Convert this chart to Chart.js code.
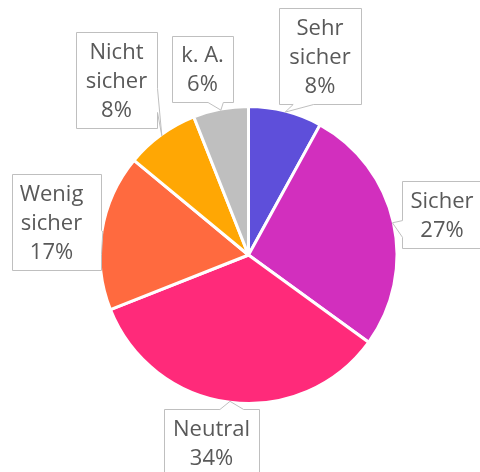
<!DOCTYPE html>
<html>
<head>
<meta charset="utf-8">
<script src="https://cdn.jsdelivr.net/npm/chart.js@4/dist/chart.umd.min.js"></script>
<style>
  html, body { margin: 0; padding: 0; background: #ffffff; }
  #wrap { width: 480px; height: 472px; }
</style>
</head>
<body>
<div id="wrap"><canvas id="pieChart" width="480" height="472"></canvas></div>
<script>
// ========================================
// DATA
// ========================================
const categories = ['Sehr sicher', 'Sicher', 'Neutral', 'Wenig sicher', 'Nicht sicher', 'k. A.'];
const shares = [8, 27, 34, 17, 8, 6];
const sliceColors = ['#5E4FDA', '#D22FBE', '#FF2A7A', '#FF6A3F', '#FFA704', '#BFBFBF'];

// callout boxes (layout only): box rect, side the wedge leaves from, text shift
const calloutBoxes = [
    { x: 279, y: 8,   w: 82, h: 96, side: 'bottom', dx: 0 },
    { x: 402, y: 181, w: 80, h: 67, side: 'left',   dx: 0 },
    { x: 164, y: 409, w: 95, h: 67, side: 'top',    dx: 0 },
    { x: 12,  y: 174, w: 89, h: 96, side: 'right',  dx: -5 },
    { x: 76,  y: 32,  w: 81, h: 96, side: 'right',  dx: 0 },
    { x: 172, y: 36,  w: 61, h: 66, side: 'bottom', dx: 0 }
];

const FONT = '22px "Open Sans"';
const LINE_H = 29;

// ========================================
// CALLOUT PLUGIN - wedge callouts like Excel data labels
// ========================================
function wrapLabel(ctx, text, maxW) {
    const words = text.split(' ');
    const lines = [];
    let cur = '';
    words.forEach(w => {
        const test = cur ? cur + ' ' + w : w;
        if (cur && ctx.measureText(test).width > maxW) {
            lines.push(cur);
            cur = w;
        } else {
            cur = test;
        }
    });
    if (cur) lines.push(cur);
    return lines;
}

const calloutPlugin = {
    id: 'callouts',
    afterDatasetsDraw(chart) {
        const ctx = chart.ctx;
        const meta = chart.getDatasetMeta(0);
        ctx.save();
        ctx.font = FONT;

        meta.data.forEach((arc, i) => {
            const b = calloutBoxes[i];
            const mid = (arc.startAngle + arc.endAngle) / 2;
            const r = arc.outerRadius - 1;
            const tx = arc.x + Math.cos(mid) * r;
            const ty = arc.y + Math.sin(mid) * r;

            const x = b.x + 0.5, y = b.y + 0.5, w = b.w, h = b.h;
            const cx = x + w / 2, cy = y + h / 2;

            ctx.beginPath();
            ctx.moveTo(x, y);
            if (b.side === 'top') {
                const f = tx > cx ? [7, 10] : [2, 5];
                ctx.lineTo(x + w * f[0] / 12, y);
                ctx.lineTo(tx, ty);
                ctx.lineTo(x + w * f[1] / 12, y);
            }
            ctx.lineTo(x + w, y);
            if (b.side === 'right') {
                const f = ty > cy ? [7, 10] : [2, 5];
                ctx.lineTo(x + w, y + h * f[0] / 12);
                ctx.lineTo(tx, ty);
                ctx.lineTo(x + w, y + h * f[1] / 12);
            }
            ctx.lineTo(x + w, y + h);
            if (b.side === 'bottom') {
                const f = tx > cx ? [7, 10] : [2, 5];
                ctx.lineTo(x + w * f[1] / 12, y + h);
                ctx.lineTo(tx, ty);
                ctx.lineTo(x + w * f[0] / 12, y + h);
            }
            ctx.lineTo(x, y + h);
            if (b.side === 'left') {
                const f = ty > cy ? [7, 10] : [2, 5];
                ctx.lineTo(x, y + h * f[1] / 12);
                ctx.lineTo(tx, ty);
                ctx.lineTo(x, y + h * f[0] / 12);
            }
            ctx.closePath();
            ctx.fillStyle = '#ffffff';
            ctx.fill();
            ctx.strokeStyle = '#BFBFBF';
            ctx.lineWidth = 1;
            ctx.stroke();

            // label text
            const lines = wrapLabel(ctx, chart.data.labels[i], w - 10);
            lines.push(shares[i] + '%');
            ctx.fillStyle = '#595959';
            ctx.textAlign = 'center';
            ctx.textBaseline = 'alphabetic';
            const n = lines.length;
            lines.forEach((line, k) => {
                const by = b.y + b.h / 2 + (k - (n - 1) / 2) * LINE_H + 7.5;
                ctx.fillText(line, b.x + b.w / 2 + b.dx, by);
            });
        });
        ctx.restore();
    }
};

// ========================================
// CHART INITIALIZATION
// ========================================
const ctx = document.getElementById('pieChart').getContext('2d');

new Chart(ctx, {
    type: 'pie',
    data: {
        labels: categories,
        datasets: [{
            data: shares,
            backgroundColor: sliceColors,
            borderColor: '#ffffff',
            borderWidth: 3
        }]
    },
    options: {
        responsive: false,
        animation: false,
        layout: { padding: { left: 98.5, right: 81.5, top: 105, bottom: 67 } },
        plugins: {
            legend: { display: false },
            tooltip: { enabled: false }
        }
    },
    plugins: [calloutPlugin]
});
</script>
</body>
</html>
